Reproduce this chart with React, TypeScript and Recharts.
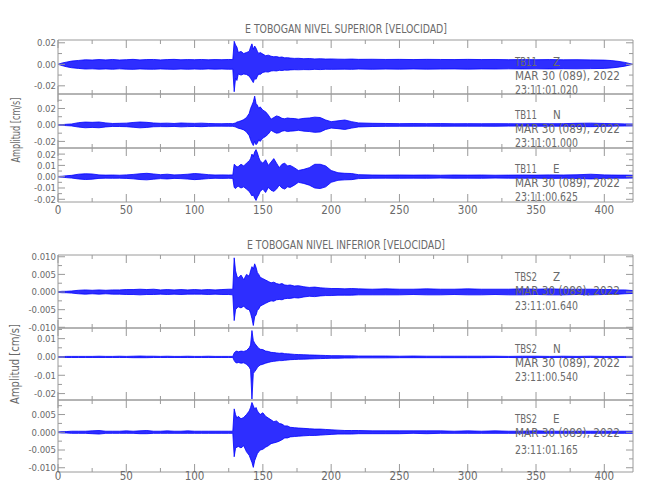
import React from 'react';
import { ComposedChart, Area, XAxis, YAxis } from 'recharts';

// seconds; finer spacing around the event
const TIME = [
  0, 3, 6, 10, 15, 20, 25, 30,
  35, 40, 45, 50, 55, 60, 65, 70,
  75, 80, 85, 90, 95, 100, 105, 110,
  115, 120, 125, 128, 129, 130, 131, 132,
  134, 136, 138, 140, 141, 142, 143, 144,
  145, 146, 147, 148, 150, 152, 154, 156,
  158, 160, 162, 164, 166, 168, 170, 173,
  176, 180, 184, 188, 192, 196, 200, 205,
  210, 215, 220, 230, 240, 250, 260, 270,
  280, 290, 300, 310, 320, 330, 340, 350,
  360, 370, 380, 390, 400, 405, 410, 415,
  421,
];

// envelopes (cm/s), upper and lower
const TB11_Z_HI = [
  0, 0.0012, 0.002, 0.003, 0.0036, 0.0042, 0.004, 0.0044,
  0.0041, 0.0045, 0.004, 0.0043, 0.0046, 0.0041, 0.0044, 0.0045,
  0.0041, 0.0044, 0.0046, 0.0042, 0.0044, 0.0043, 0.0045, 0.0042,
  0.0044, 0.0043, 0.0045, 0.0044, 0.0214, 0.018, 0.016, 0.011,
  0.012, 0.01, 0.011, 0.012, 0.016, 0.019, 0.014, 0.017,
  0.015, 0.012, 0.01, 0.011, 0.0095, 0.008, 0.0085, 0.0075,
  0.007, 0.0072, 0.0065, 0.0068, 0.006, 0.0062, 0.0058, 0.0055,
  0.0056, 0.0052, 0.0054, 0.005, 0.0052, 0.0049, 0.005, 0.0048,
  0.0047, 0.0049, 0.0046, 0.0047, 0.0045, 0.0046, 0.0044, 0.0046,
  0.0045, 0.0044, 0.0046, 0.0044, 0.0045, 0.0043, 0.0044, 0.0043,
  0.0044, 0.0042, 0.0043, 0.0041, 0.0039, 0.0035, 0.0028, 0.0018,
  0,
];
const TB11_Z_LO = [
  0, -0.0012, -0.0022, -0.0032, -0.0038, -0.0044, -0.0042, -0.0045,
  -0.0043, -0.0046, -0.0042, -0.0045, -0.0047, -0.0043, -0.0045, -0.0046,
  -0.0043, -0.0045, -0.0047, -0.0044, -0.0046, -0.0044, -0.0046, -0.0043,
  -0.0045, -0.0044, -0.0046, -0.0045, -0.0255, -0.013, -0.015, -0.009,
  -0.01, -0.009, -0.0095, -0.011, -0.013, -0.015, -0.017, -0.013,
  -0.014, -0.011, -0.009, -0.0095, -0.0075, -0.007, -0.0072, -0.0062,
  -0.006, -0.0062, -0.0056, -0.0058, -0.0054, -0.0055, -0.0052, -0.005,
  -0.0051, -0.0049, -0.005, -0.0047, -0.0049, -0.0046, -0.0047, -0.0046,
  -0.0045, -0.0047, -0.0044, -0.0046, -0.0044, -0.0045, -0.0043, -0.0045,
  -0.0044, -0.0043, -0.0045, -0.0043, -0.0044, -0.0042, -0.0043, -0.0042,
  -0.0043, -0.0041, -0.0042, -0.004, -0.0038, -0.0034, -0.0027, -0.0017,
  0,
];

const TB11_N_HI = [
  0.0002, 0.0004, 0.0008, 0.0012, 0.0028, 0.0035, 0.0032, 0.0036,
  0.0025, 0.0018, 0.002, 0.0022, 0.003, 0.0036, 0.0032, 0.0024,
  0.002, 0.0022, 0.0018, 0.0024, 0.0021, 0.0019, 0.0022, 0.0018,
  0.0016, 0.0015, 0.0017, 0.0016, 0.002, 0.0025, 0.0035, 0.004,
  0.005, 0.0065, 0.009, 0.014, 0.02, 0.024, 0.028, 0.035,
  0.026, 0.024, 0.02, 0.022, 0.018, 0.016, 0.012, 0.007,
  0.009, 0.011, 0.01, 0.008, 0.0075, 0.0085, 0.008, 0.0078,
  0.007, 0.008, 0.0085, 0.0095, 0.009, 0.006, 0.004, 0.005,
  0.006, 0.004, 0.0025, 0.002, 0.0018, 0.0016, 0.0017, 0.0016,
  0.0017, 0.0015, 0.0016, 0.0015, 0.0016, 0.0015, 0.0014, 0.0016,
  0.0015, 0.0016, 0.002, 0.0022, 0.0018, 0.0016, 0.0015, 0.0013,
  0.0012,
];
const TB11_N_LO = [
  -0.0002, -0.0004, -0.0008, -0.0012, -0.0026, -0.0034, -0.003, -0.0034,
  -0.0024, -0.0018, -0.0019, -0.0021, -0.0028, -0.0035, -0.003, -0.0022,
  -0.002, -0.0021, -0.0018, -0.0023, -0.002, -0.0018, -0.0021, -0.0017,
  -0.0015, -0.0015, -0.0016, -0.0016, -0.002, -0.0025, -0.0032, -0.004,
  -0.0048, -0.006, -0.0085, -0.013, -0.018, -0.022, -0.025, -0.02,
  -0.024, -0.022, -0.018, -0.02, -0.016, -0.014, -0.011, -0.0065,
  -0.0085, -0.01, -0.0095, -0.0075, -0.007, -0.008, -0.0075, -0.0072,
  -0.0065, -0.0075, -0.008, -0.009, -0.0085, -0.0055, -0.0038, -0.0045,
  -0.0055, -0.0038, -0.0024, -0.0019, -0.0017, -0.0016, -0.0016, -0.0015,
  -0.0016, -0.0015, -0.0015, -0.0015, -0.0016, -0.0014, -0.0014, -0.0015,
  -0.0015, -0.0015, -0.0019, -0.0021, -0.0017, -0.0015, -0.0014, -0.0013,
  -0.0012,
];

const TB11_E_HI = [
  0.0002, 0.0004, 0.0008, 0.0012, 0.0022, 0.0026, 0.0024, 0.0016,
  0.0014, 0.0015, 0.0013, 0.0016, 0.002, 0.0026, 0.003, 0.0024,
  0.0018, 0.0022, 0.0016, 0.0018, 0.0022, 0.0028, 0.0024, 0.0018,
  0.0015, 0.0016, 0.0015, 0.0016, 0.011, 0.01, 0.0085, 0.009,
  0.011, 0.0095, 0.012, 0.014, 0.016, 0.02, 0.018, 0.022,
  0.024, 0.021, 0.017, 0.014, 0.012, 0.015, 0.01, 0.013,
  0.016, 0.012, 0.008, 0.011, 0.012, 0.0095, 0.01, 0.008,
  0.0055, 0.0065, 0.008, 0.011, 0.011, 0.0095, 0.0055, 0.0035,
  0.003, 0.0028, 0.0018, 0.0015, 0.0014, 0.0015, 0.0014, 0.0015,
  0.0013, 0.0015, 0.0014, 0.0015, 0.0013, 0.0014, 0.0015, 0.0014,
  0.0016, 0.0015, 0.0017, 0.0022, 0.0016, 0.0015, 0.0014, 0.0014,
  0.0013,
];
const TB11_E_LO = [
  -0.0002, -0.0004, -0.0008, -0.0012, -0.002, -0.0025, -0.0022, -0.0015,
  -0.0013, -0.0014, -0.0013, -0.0015, -0.0019, -0.0025, -0.0028, -0.0022,
  -0.0017, -0.002, -0.0015, -0.0017, -0.0021, -0.0026, -0.0022, -0.0017,
  -0.0014, -0.0015, -0.0014, -0.0015, -0.0095, -0.0105, -0.009, -0.0085,
  -0.01, -0.009, -0.011, -0.013, -0.015, -0.017, -0.016, -0.019,
  -0.021, -0.018, -0.016, -0.013, -0.011, -0.014, -0.0095, -0.012,
  -0.013, -0.011, -0.0075, -0.01, -0.011, -0.009, -0.0095, -0.0075,
  -0.005, -0.006, -0.0075, -0.01, -0.0105, -0.009, -0.005, -0.0032,
  -0.0028, -0.0026, -0.0017, -0.0014, -0.0013, -0.0014, -0.0013, -0.0014,
  -0.0012, -0.0014, -0.0013, -0.0014, -0.0012, -0.0013, -0.0014, -0.0013,
  -0.0015, -0.0014, -0.0016, -0.002, -0.0015, -0.0014, -0.0013, -0.0013,
  -0.0012,
];

const TBS2_Z_HI = [
  0.0001, 0.0002, 0.0002, 0.0003, 0.0005, 0.0006, 0.0005, 0.0006,
  0.0005, 0.0006, 0.0006, 0.0007, 0.0007, 0.0008, 0.0007, 0.0008,
  0.0006, 0.0007, 0.0006, 0.0007, 0.0006, 0.0007, 0.0006, 0.0007,
  0.0006, 0.0007, 0.0008, 0.0008, 0.0097, 0.006, 0.0045, 0.004,
  0.0048, 0.0035, 0.005, 0.0045, 0.006, 0.0072, 0.0065, 0.008,
  0.007, 0.0055, 0.005, 0.0042, 0.0038, 0.0034, 0.003, 0.0026,
  0.0028, 0.0024, 0.0022, 0.0024, 0.002, 0.0019, 0.002, 0.0017,
  0.0018, 0.0015, 0.0013, 0.0014, 0.0012, 0.0011, 0.001, 0.001,
  0.0009, 0.001, 0.0009, 0.0008, 0.0009, 0.0008, 0.0008, 0.0009,
  0.0008, 0.0008, 0.0009, 0.0008, 0.0008, 0.0008, 0.0009, 0.0008,
  0.0009, 0.0008, 0.0008, 0.0008, 0.0007, 0.0007, 0.0006, 0.0006,
  0.0004,
];
const TBS2_Z_LO = [
  -0.0001, -0.0002, -0.0002, -0.0003, -0.0005, -0.0006, -0.0005, -0.0006,
  -0.0005, -0.0006, -0.0006, -0.0007, -0.0007, -0.0008, -0.0007, -0.0007,
  -0.0006, -0.0007, -0.0006, -0.0007, -0.0006, -0.0006, -0.0006, -0.0007,
  -0.0006, -0.0007, -0.0007, -0.0008, -0.0081, -0.005, -0.0045, -0.0042,
  -0.0045, -0.004, -0.0048, -0.005, -0.006, -0.0075, -0.0095, -0.007,
  -0.0065, -0.0052, -0.0048, -0.004, -0.0036, -0.0032, -0.0028, -0.0025,
  -0.0026, -0.0022, -0.0021, -0.0022, -0.0019, -0.0018, -0.0018, -0.0016,
  -0.0017, -0.0014, -0.0012, -0.0013, -0.0011, -0.001, -0.001, -0.0009,
  -0.0009, -0.0009, -0.0008, -0.0008, -0.0008, -0.0008, -0.0007, -0.0008,
  -0.0008, -0.0007, -0.0008, -0.0008, -0.0007, -0.0008, -0.0008, -0.0007,
  -0.0008, -0.0008, -0.0007, -0.0008, -0.0007, -0.0006, -0.0006, -0.0005,
  -0.0004,
];

const TBS2_N_HI = [
  0.0002, 0.0002, 0.0003, 0.0003, 0.0003, 0.0003, 0.0003, 0.0004,
  0.0003, 0.0003, 0.0004, 0.0003, 0.0004, 0.0005, 0.0004, 0.0004,
  0.0003, 0.0004, 0.0003, 0.0003, 0.0004, 0.0003, 0.0003, 0.0004,
  0.0003, 0.0003, 0.0003, 0.0003, 0.0022, 0.003, 0.0032, 0.0028,
  0.0032, 0.003, 0.0035, 0.005, 0.0065, 0.0144, 0.009, 0.0075,
  0.0065, 0.0055, 0.0048, 0.0042, 0.004, 0.0032, 0.003, 0.0025,
  0.0024, 0.0022, 0.002, 0.0021, 0.0018, 0.0017, 0.0016, 0.0014,
  0.0013, 0.0012, 0.0011, 0.001, 0.0009, 0.0008, 0.0007, 0.0007,
  0.0006, 0.0006, 0.0005, 0.0005, 0.0005, 0.0004, 0.0005, 0.0004,
  0.0004, 0.0004, 0.0004, 0.0004, 0.0004, 0.0003, 0.0004, 0.0004,
  0.0003, 0.0004, 0.0003, 0.0004, 0.0003, 0.0003, 0.0003, 0.0003,
  0.0003,
];
const TBS2_N_LO = [
  -0.0002, -0.0002, -0.0003, -0.0003, -0.0003, -0.0003, -0.0003, -0.0003,
  -0.0003, -0.0003, -0.0003, -0.0003, -0.0004, -0.0004, -0.0004, -0.0003,
  -0.0003, -0.0003, -0.0003, -0.0003, -0.0003, -0.0003, -0.0003, -0.0003,
  -0.0003, -0.0003, -0.0003, -0.0003, -0.002, -0.003, -0.0033, -0.003,
  -0.0034, -0.0032, -0.004, -0.0055, -0.007, -0.023, -0.009, -0.008,
  -0.007, -0.0058, -0.005, -0.0044, -0.004, -0.0034, -0.003, -0.0026,
  -0.0024, -0.0022, -0.002, -0.002, -0.0018, -0.0017, -0.0015, -0.0014,
  -0.0013, -0.0012, -0.0011, -0.001, -0.0009, -0.0008, -0.0007, -0.0007,
  -0.0006, -0.0006, -0.0005, -0.0005, -0.0005, -0.0004, -0.0004, -0.0004,
  -0.0004, -0.0004, -0.0004, -0.0004, -0.0003, -0.0003, -0.0004, -0.0003,
  -0.0003, -0.0003, -0.0003, -0.0003, -0.0003, -0.0003, -0.0003, -0.0003,
  -0.0003,
];

const TBS2_E_HI = [
  0.0001, 0.0002, 0.0002, 0.0003, 0.0003, 0.0003, 0.0004, 0.0005,
  0.0003, 0.0003, 0.0003, 0.0004, 0.0003, 0.0004, 0.0005, 0.0003,
  0.0003, 0.0004, 0.0003, 0.0003, 0.0004, 0.0003, 0.0003, 0.0003,
  0.0003, 0.0003, 0.0003, 0.0003, 0.0066, 0.005, 0.004, 0.0045,
  0.0038, 0.0042, 0.005, 0.006, 0.007, 0.0084, 0.0075, 0.0065,
  0.007, 0.006, 0.0055, 0.005, 0.0055, 0.0045, 0.004, 0.0035,
  0.003, 0.0032, 0.0025, 0.0023, 0.0018, 0.0018, 0.0014, 0.0013,
  0.0012, 0.0011, 0.001, 0.0009, 0.0009, 0.0008, 0.0007, 0.0006,
  0.0005, 0.0005, 0.0005, 0.0004, 0.0004, 0.0004, 0.0004, 0.0004,
  0.0004, 0.0003, 0.0004, 0.0003, 0.0004, 0.0003, 0.0003, 0.0004,
  0.0003, 0.0003, 0.0003, 0.0003, 0.0003, 0.0003, 0.0003, 0.0003,
  0.0003,
];
const TBS2_E_LO = [
  -0.0001, -0.0002, -0.0002, -0.0003, -0.0003, -0.0003, -0.0004, -0.0005,
  -0.0003, -0.0003, -0.0003, -0.0003, -0.0003, -0.0004, -0.0004, -0.0003,
  -0.0003, -0.0003, -0.0003, -0.0003, -0.0003, -0.0003, -0.0003, -0.0003,
  -0.0003, -0.0003, -0.0003, -0.0003, -0.0069, -0.0045, -0.0042, -0.004,
  -0.0044, -0.0038, -0.0055, -0.0065, -0.0075, -0.0085, -0.0099, -0.008,
  -0.007, -0.006, -0.0055, -0.005, -0.0048, -0.0042, -0.0038, -0.0032,
  -0.003, -0.0028, -0.0025, -0.0021, -0.0016, -0.0016, -0.0013, -0.0012,
  -0.0011, -0.001, -0.0009, -0.0009, -0.0008, -0.0007, -0.0006, -0.0005,
  -0.0005, -0.0005, -0.0004, -0.0004, -0.0004, -0.0004, -0.0003, -0.0004,
  -0.0003, -0.0003, -0.0003, -0.0003, -0.0003, -0.0003, -0.0003, -0.0003,
  -0.0003, -0.0003, -0.0003, -0.0003, -0.0003, -0.0003, -0.0003, -0.0003,
  -0.0003,
];

const X_TICKS = [0, 25, 50, 75, 100, 125, 150, 175, 200, 225, 250, 275, 300, 325, 350, 375, 400];
const X_MAX = 421;

const STATIONS = ['TB11', 'TB11', 'TB11', 'TBS2', 'TBS2', 'TBS2'];
const COMPONENTS = ['Z', 'N', 'E', 'Z', 'N', 'E'];
const DATE_TXT = 'MAR 30 (089), 2022';
const START_TXT = ['23:11:01.020', '23:11:01.000', '23:11:00.625', '23:11:01.640', '23:11:00.540', '23:11:01.165'];
const TITLES = ['E TOBOGAN NIVEL SUPERIOR [VELOCIDAD]', 'E TOBOGAN NIVEL INFERIOR [VELOCIDAD]'];
const Y_TITLE = 'Amplitud [cm/s]';

const BLUE = '#0000ff';
const FRAME = '#9a9a9a';
const INK = '#6a6a6a';
const FONT = '"DejaVu Sans Condensed", "Liberation Sans Narrow", "DejaVu Sans", sans-serif';

const panels = [
  { hi: TB11_Z_HI, lo: TB11_Z_LO, domain: [-0.0276, 0.0226], major: [-0.02, 0, 0.02], minor: [-0.01, 0.01], digits: 2, top: 40, h: 54, xLabels: false, textY: [62, 76, 90] },
  { hi: TB11_N_HI, lo: TB11_N_LO, domain: [-0.028, 0.0376], major: [-0.02, 0, 0.02], minor: [-0.01, 0.01, 0.03], digits: 2, top: 94, h: 54, xLabels: false, textY: [114.5, 128.7, 143] },
  { hi: TB11_E_HI, lo: TB11_E_LO, domain: [-0.0224, 0.0254], major: [-0.02, -0.01, 0, 0.01, 0.02], minor: [-0.015, -0.005, 0.005, 0.015], digits: 2, top: 148, h: 54, xLabels: true, labelDy: 8, textY: [168.5, 182.7, 197] },
  { hi: TBS2_Z_HI, lo: TBS2_Z_LO, domain: [-0.0102, 0.0105], major: [-0.01, -0.005, 0, 0.005, 0.01], minor: [-0.0075, -0.0025, 0.0025, 0.0075], digits: 3, top: 255, h: 73, xLabels: false, textY: [277, 291, 306] },
  { hi: TBS2_N_HI, lo: TBS2_N_LO, domain: [-0.0235, 0.0158], major: [-0.02, -0.01, 0, 0.01], minor: [-0.015, -0.005, 0.005, 0.015], digits: 2, top: 328, h: 72, xLabels: false, textY: [348.5, 363, 377] },
  { hi: TBS2_E_HI, lo: TBS2_E_LO, domain: [-0.0112, 0.0091], major: [-0.01, -0.005, 0, 0.005], minor: [-0.0075, -0.0025, 0.0025, 0.0075], digits: 3, top: 400, h: 72, xLabels: true, labelDy: 4, textY: [419, 433, 449.5] },
];

const textStyle = { fontFamily: FONT, fontSize: 11.5, fill: INK };
const tickStyle = { fontFamily: FONT, fontSize: 9.5, fill: INK };

const Panel = ({ p }: any) => {
  const data = TIME.map((t, i) => ({ t, env: [p.lo[i], p.hi[i]] }));
  const yTicks = [...p.major, ...p.minor];
  const M_TOP = 8;
  const M_BOT = 20;

  const leftTick = (props: any) => {
    const { x, y, payload } = props;
    const big = p.major.includes(payload.value);
    return (
      <g>
        <line x1={x} x2={x + (big ? 7 : 4)} y1={y} y2={y} stroke={FRAME} />
        {big && (
          <text x={x - 2} y={y} dy="0.36em" textAnchor="end" style={tickStyle}>
            {payload.value.toFixed(p.digits)}
          </text>
        )}
      </g>
    );
  };
  const rightTick = (props: any) => {
    const { x, y, payload } = props;
    const big = p.major.includes(payload.value);
    return <line x1={x} x2={x - (big ? 7 : 4)} y1={y} y2={y} stroke={FRAME} />;
  };
  const bottomTick = (props: any) => {
    const { x, y, payload } = props;
    const big = payload.value % 50 === 0;
    return (
      <g>
        <line x1={x} x2={x} y1={y} y2={y - (big ? 8 : 4)} stroke={FRAME} />
        {p.xLabels && big && (
          <text x={x} y={y + p.labelDy} dy="0.36em" textAnchor="middle" style={textStyle}>
            {payload.value}
          </text>
        )}
      </g>
    );
  };
  const topTick = (props: any) => {
    const { x, y, payload } = props;
    const big = payload.value % 50 === 0;
    return <line x1={x} x2={x} y1={y} y2={y + (big ? 8 : 4)} stroke={FRAME} />;
  };

  // axes need a non-zero size to be drawn, so each x axis gets 1px
  return (
    <div style={{ position: 'absolute', left: 0, top: p.top - M_TOP - 1 }}>
      <ComposedChart width={650} height={p.h + M_TOP + M_BOT + 2} data={data} margin={{ top: M_TOP, right: 0, bottom: M_BOT, left: 0 }}>
        <XAxis xAxisId="b" dataKey="t" type="number" domain={[0, X_MAX]} ticks={X_TICKS} interval={0} allowDataOverflow
          height={1} tickSize={0} tickMargin={0} tick={bottomTick} tickLine={false} axisLine={{ stroke: FRAME }} />
        <XAxis xAxisId="t" dataKey="t" type="number" orientation="top" domain={[0, X_MAX]} ticks={X_TICKS} interval={0} allowDataOverflow
          height={1} tickSize={0} tickMargin={0} tick={topTick} tickLine={false} axisLine={{ stroke: FRAME }} />
        <YAxis yAxisId="l" type="number" domain={p.domain} ticks={yTicks} interval={0} allowDataOverflow
          width={58} tickSize={0} tickMargin={0} tick={leftTick} tickLine={false} axisLine={{ stroke: FRAME }} />
        <YAxis yAxisId="r" orientation="right" type="number" domain={p.domain} ticks={yTicks} interval={0} allowDataOverflow
          width={17} tickSize={0} tickMargin={0} tick={rightTick} tickLine={false} axisLine={{ stroke: FRAME }} />
        <Area xAxisId="b" yAxisId="l" type="linear" dataKey="env" stroke={BLUE} strokeWidth={0.8}
          fill={BLUE} fillOpacity={0.82} dot={false} activeDot={false} isAnimationActive={false} />
      </ComposedChart>
    </div>
  );
};

const App = () => {
  return (
    <div style={{ position: 'absolute', left: 0, top: 0, width: 650, height: 500, background: '#fff', overflow: 'hidden' }}>
      {panels.map((p, i) => <Panel key={i} p={p} />)}
      <svg width={650} height={500} style={{ position: 'absolute', left: 0, top: 0, pointerEvents: 'none' }}>
        <text x={346} y={29} dy="0.36em" textAnchor="middle" textLength={202} lengthAdjust="spacingAndGlyphs" style={textStyle}>{TITLES[0]}</text>
        <text x={346} y={245} dy="0.36em" textAnchor="middle" textLength={198} lengthAdjust="spacingAndGlyphs" style={textStyle}>{TITLES[1]}</text>
        <text x={16} y={130} dy="0.36em" textAnchor="middle" transform="rotate(-90 16 130)" textLength={65} lengthAdjust="spacingAndGlyphs" style={textStyle}>{Y_TITLE}</text>
        <text x={15} y={364} dy="0.36em" textAnchor="middle" transform="rotate(-90 15 364)" textLength={80} lengthAdjust="spacingAndGlyphs" style={textStyle}>{Y_TITLE}</text>
        {panels.map((p, i) => (
          <g key={i}>
            <text x={515} y={p.textY[0]} dy="0.36em" textLength={22} lengthAdjust="spacingAndGlyphs" style={textStyle}>{STATIONS[i]}</text>
            <text x={553} y={p.textY[0]} dy="0.36em" style={textStyle}>{COMPONENTS[i]}</text>
            <text x={515} y={p.textY[1]} dy="0.36em" textLength={105} lengthAdjust="spacingAndGlyphs" style={textStyle}>{DATE_TXT}</text>
            <text x={515} y={p.textY[2]} dy="0.36em" textLength={63} lengthAdjust="spacingAndGlyphs" style={textStyle}>{START_TXT[i]}</text>
          </g>
        ))}
      </svg>
    </div>
  );
};

export default App;
